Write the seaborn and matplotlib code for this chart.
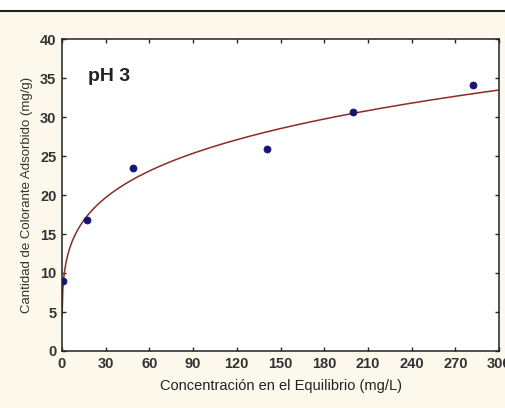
import numpy as np
import pandas as pd
import matplotlib
matplotlib.use('Agg')
import matplotlib.pyplot as plt
import seaborn as sns
from matplotlib.lines import Line2D

# Equilibrium data (pH 3)
ce = [1, 17, 49, 141, 199.5, 282]          # mg/L
qe = [9.0, 16.8, 23.5, 25.9, 30.7, 34.1]   # mg/g

x_ticks = [0, 30, 60, 90, 120, 150, 180, 210, 240, 270, 300]
y_ticks = [0, 5, 10, 15, 20, 25, 30, 35, 40]

df = pd.DataFrame({'Ce': ce, 'qe': qe})

# Freundlich fit q = K * C^(1/n), fitted on log-log of the points
slope, inter = np.polyfit(np.log(df['Ce']), np.log(df['qe']), 1)
c_fit = np.linspace(0.05, 300, 600)
fit = pd.DataFrame({'Ce': c_fit, 'qe': np.exp(inter) * c_fit ** slope})

sns.set_style('ticks')
plt.rcParams['font.family'] = ['Liberation Sans', 'DejaVu Sans']

fig = plt.figure(figsize=(5.05, 4.08), dpi=100, facecolor='#fcf8ec')
ax = fig.add_axes([62 / 505, 1 - 351 / 408, 437 / 505, 312 / 408])
ax.set_facecolor('white')

sns.lineplot(data=fit, x='Ce', y='qe', ax=ax, color='#8e2a2a', lw=1.1)
sns.scatterplot(data=df, x='Ce', y='qe', ax=ax, color='#14147a', marker='o',
                s=26, edgecolor='#14147a', linewidth=0.5, zorder=5)

ax.set_xlim(0, 300)
ax.set_ylim(0, 40)
ax.set_xticks(x_ticks)
ax.set_yticks(y_ticks)
ax.tick_params(direction='in', length=3, width=1, top=True, right=True,
               labelsize=10.5, labelcolor='#333333', pad=4)
for lab in ax.get_xticklabels() + ax.get_yticklabels():
    lab.set_fontweight('bold')
for sp in ax.spines.values():
    sp.set_linewidth(1.1)
    sp.set_color('#222222')

ax.set_xlabel('Concentración en el Equilibrio (mg/L)', fontsize=10.5,
              color='#222222', labelpad=6)
ax.set_ylabel('Cantidad de Colorante Adsorbido (mg/g)', fontsize=9.5,
              color='#333333', labelpad=5)
ax.text(0.06, 0.88, 'pH 3', transform=ax.transAxes, fontsize=14,
        fontweight='bold', color='#222222', va='center')

# white strip and rule across the top
fig.patches.append(plt.Rectangle((0, 1 - 11 / 408), 1, 11 / 408,
                                 transform=fig.transFigure, color='white', zorder=0))
fig.add_artist(Line2D([0, 1], [1 - 11 / 408] * 2, color='#222222', lw=1.5))

fig.savefig('out.png', dpi=100, facecolor=fig.get_facecolor())
